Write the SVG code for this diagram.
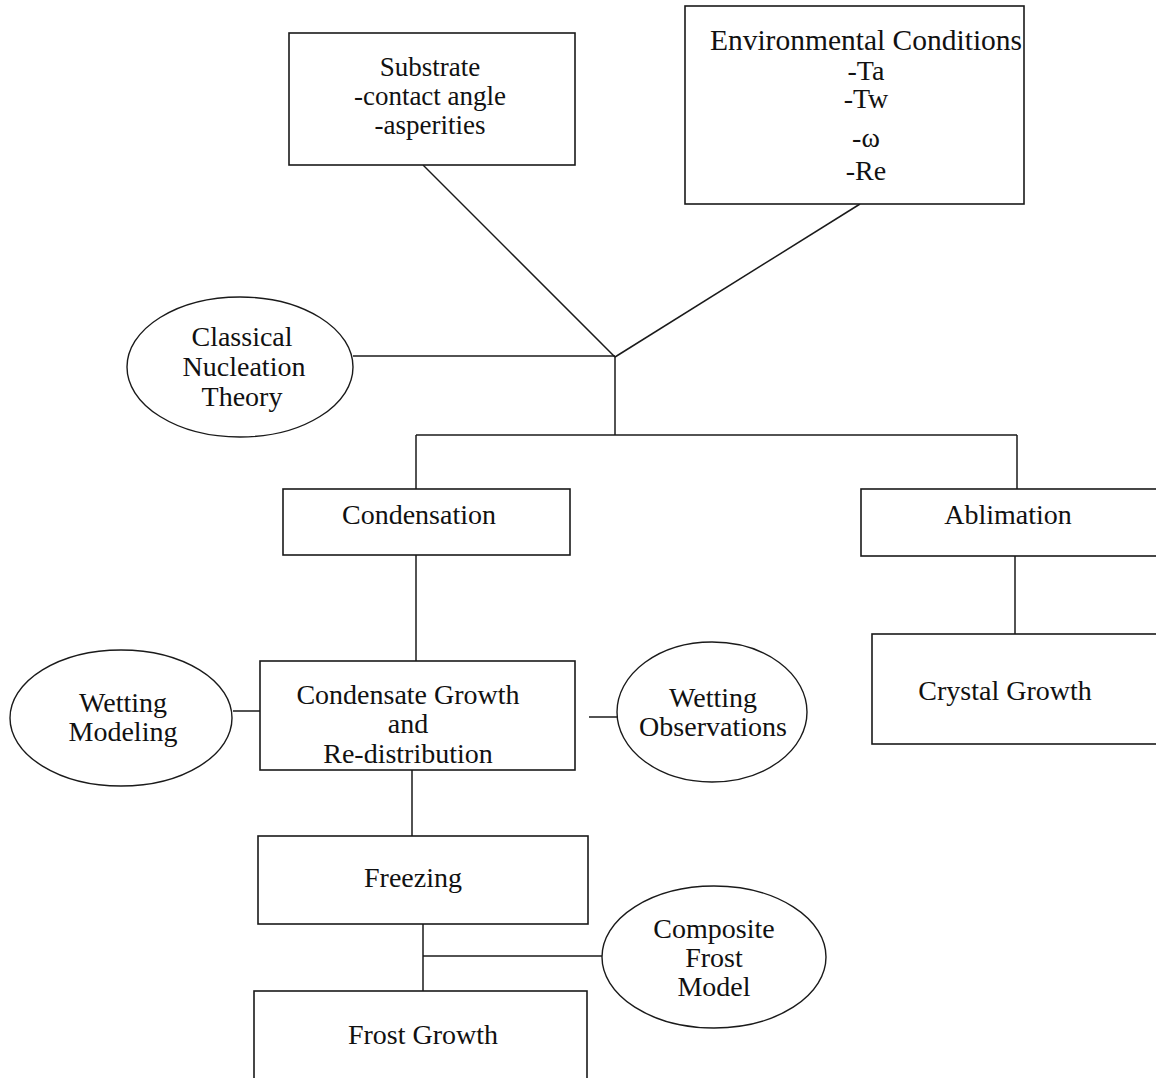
<svg xmlns="http://www.w3.org/2000/svg" width="1156" height="1078" viewBox="0 0 1156 1078">
<style>
.box{fill:#fff;stroke:#1a1a1a;stroke-width:1.6}
.ell{fill:#fff;stroke:#1a1a1a;stroke-width:1.4}
.ln{fill:none;stroke:#1a1a1a;stroke-width:1.5}
text{font-family:"Liberation Serif","Times New Roman",serif;font-size:28px;fill:#111;text-anchor:middle}
.sm{font-size:27px}
</style>
<rect width="1156" height="1078" fill="#fff"/>
<g id="connectors">
<line class="ln" x1="423" y1="165" x2="615" y2="357"/>
<line class="ln" x1="860" y1="204" x2="615" y2="357"/>
<line class="ln" x1="353" y1="356" x2="615" y2="356"/>
<line class="ln" x1="615" y1="356" x2="615" y2="435"/>
<line class="ln" x1="416" y1="435" x2="1017" y2="435"/>
<line class="ln" x1="416" y1="435" x2="416" y2="489"/>
<line class="ln" x1="1017" y1="435" x2="1017" y2="489"/>
<line class="ln" x1="1015" y1="556" x2="1015" y2="634"/>
<line class="ln" x1="416" y1="555" x2="416" y2="661"/>
<line class="ln" x1="233" y1="711" x2="260" y2="711"/>
<line class="ln" x1="589" y1="717" x2="617" y2="717"/>
<line class="ln" x1="412" y1="770" x2="412" y2="836"/>
<line class="ln" x1="423" y1="924" x2="423" y2="991"/>
<line class="ln" x1="423" y1="956" x2="602" y2="956"/>
</g>
<g id="substrate">
<rect class="box" x="289" y="33" width="286" height="132"/>
<text class="sm" x="430" y="76">Substrate</text>
<text class="sm" x="430" y="105">-contact angle</text>
<text class="sm" x="430" y="134">-asperities</text>
</g>
<g id="environmental">
<rect class="box" x="685" y="6" width="339" height="198"/>
<text x="866" y="50" style="font-size:29.5px">Environmental Conditions</text>
<text x="866" y="80">-Ta</text>
<text x="866" y="108">-Tw</text>
<text x="866" y="147">-ω</text>
<text x="866" y="180">-Re</text>
</g>
<g id="cnt">
<ellipse class="ell" cx="240" cy="367" rx="113" ry="70"/>
<text x="242" y="346">Classical</text>
<text x="244" y="376">Nucleation</text>
<text x="242" y="406">Theory</text>
</g>
<g id="condensation">
<rect class="box" x="283" y="489" width="287" height="66"/>
<text x="419" y="524">Condensation</text>
</g>
<g id="ablimation">
<rect class="box" x="861" y="489" width="310" height="67"/>
<text x="1008" y="524">Ablimation</text>
</g>
<g id="crystal">
<rect class="box" x="872" y="634" width="300" height="110"/>
<text x="1005" y="700">Crystal Growth</text>
</g>
<g id="condgrowth">
<rect class="box" x="260" y="661" width="315" height="109"/>
<text x="408" y="704">Condensate Growth</text>
<text x="408" y="733">and</text>
<text x="408" y="763">Re-distribution</text>
</g>
<g id="wettingmodel">
<ellipse class="ell" cx="121" cy="718" rx="111" ry="68"/>
<text x="123" y="712">Wetting</text>
<text x="123" y="741">Modeling</text>
</g>
<g id="wettingobs">
<ellipse class="ell" cx="712" cy="712" rx="95" ry="70"/>
<text x="713" y="707">Wetting</text>
<text x="713" y="736">Observations</text>
</g>
<g id="freezing">
<rect class="box" x="258" y="836" width="330" height="88"/>
<text x="413" y="887">Freezing</text>
</g>
<g id="composite">
<ellipse class="ell" cx="714" cy="957" rx="112" ry="71"/>
<text x="714" y="938">Composite</text>
<text x="714" y="967">Frost</text>
<text x="714" y="996">Model</text>
</g>
<g id="frostgrowth">
<rect class="box" x="254" y="991" width="333" height="100"/>
<text x="423" y="1044">Frost Growth</text>
</g>
</svg>
